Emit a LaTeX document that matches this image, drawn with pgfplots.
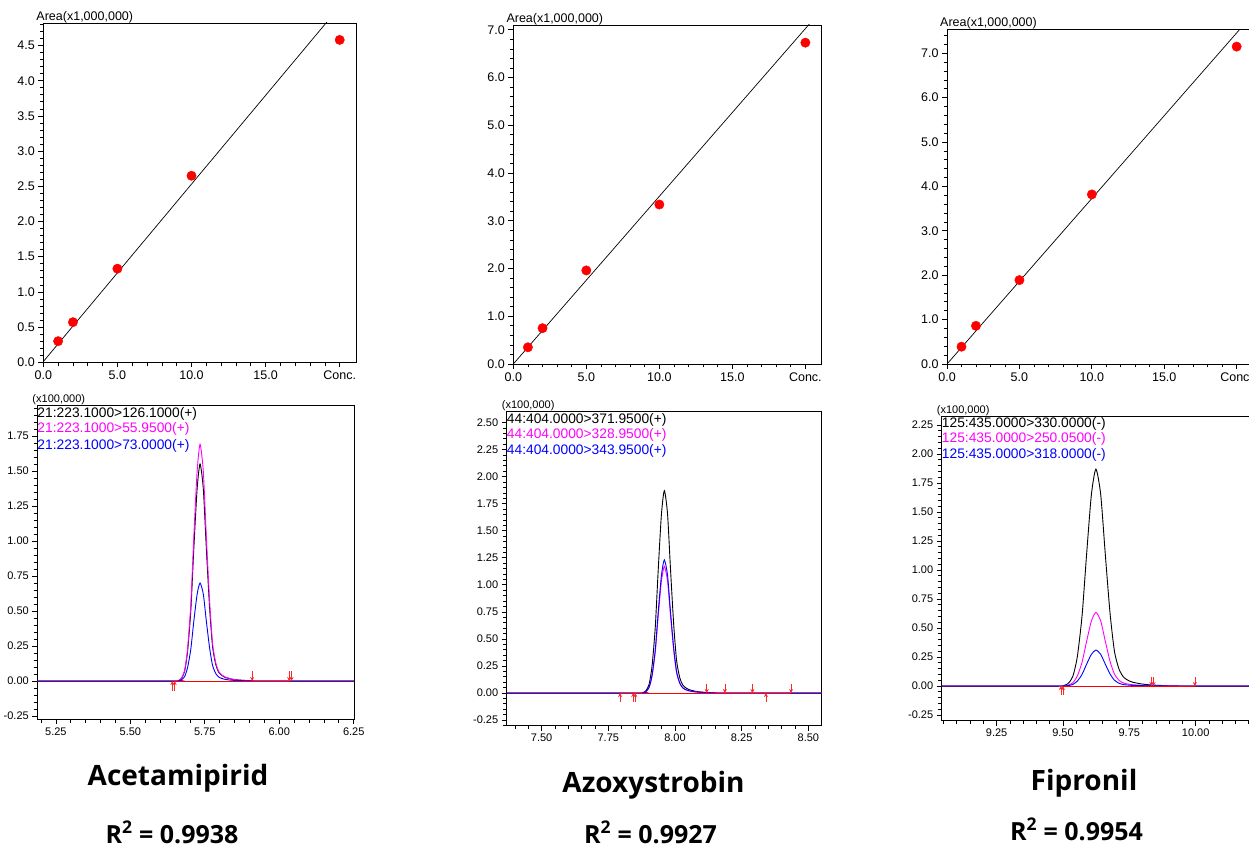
\documentclass[border=0pt]{standalone}
\usepackage{pgfplots}
\pgfplotsset{compat=1.18}
\usepackage{pgfplotstable}
\usetikzlibrary{arrows.meta}
\usepackage{fontspec}
\setmainfont{Liberation Sans}
\newfontfamily\titlefont{Open Sans}

\newcommand\calfont{\fontsize{12.5}{14}\selectfont}
\newcommand\chrfont{\fontsize{11}{13}\selectfont}
\newcommand\legfont{\fontsize{13.8}{15}\selectfont}
\newcommand\bigfont{\titlefont\bfseries\fontsize{28}{30}\selectfont}
\newcommand\rfont{\titlefont\bfseries\fontsize{25}{27}\selectfont}

\definecolor{basepurple}{RGB}{80,20,110}
\definecolor{mag}{RGB}{255,0,255}

% calibration points (conc, area x1e6)
\pgfplotstableread{
x y
1 0.30
2 0.57
5 1.33
10 2.65
20 4.58
}\calA
\pgfplotstableread{
x y
1 0.35
2 0.75
5 1.96
10 3.34
20 6.73
}\calB
\pgfplotstableread{
x y
1 0.39
2 0.86
5 1.89
10 3.82
20 7.15
}\calC

% chromatograms (time, black, magenta, blue) x1e5
\pgfplotstableread{
x k m b
5.1875 0 0 0
5.650 0 0 0
5.661 0.003 0.003 0.001
5.671 0.017 0.019 0.008
5.682 0.068 0.074 0.031
5.692 0.209 0.228 0.095
5.703 0.504 0.549 0.228
5.713 0.941 1.026 0.425
5.724 1.367 1.491 0.617
5.734 1.550 1.690 0.700
5.745 1.372 1.496 0.620
5.755 0.953 1.039 0.431
5.766 0.527 0.575 0.238
5.776 0.248 0.270 0.112
5.787 0.116 0.127 0.053
5.797 0.062 0.068 0.028
5.808 0.039 0.042 0.018
5.818 0.026 0.029 0.012
5.839 0.014 0.015 0.006
5.860 0.008 0.008 0.004
5.902 0.002 0.002 0.001
5.944 0 0 0
6.252 0 0 0
}\chrA
\pgfplotstableread{
x k m b
7.369 0 0 0
7.868 0 0 0
7.880 0.004 0.002 0.002
7.891 0.021 0.013 0.014
7.903 0.082 0.051 0.054
7.914 0.252 0.158 0.166
7.926 0.608 0.380 0.400
7.937 1.135 0.710 0.747
7.949 1.649 1.032 1.085
7.960 1.870 1.170 1.230
7.972 1.655 1.035 1.089
7.983 1.150 0.720 0.756
7.995 0.636 0.398 0.418
8.006 0.299 0.187 0.197
8.018 0.140 0.088 0.092
8.029 0.075 0.047 0.049
8.041 0.047 0.029 0.031
8.052 0.032 0.020 0.021
8.075 0.017 0.011 0.011
8.098 0.009 0.006 0.006
8.144 0.002 0.001 0.001
8.190 0 0 0
8.55 0 0 0
}\chrB
\pgfplotstableread{
x k m b
9.043 0 0 0
9.484 0 0 0
9.502 0.004 0.001 0.001
9.519 0.021 0.007 0.003
9.537 0.082 0.028 0.014
9.554 0.252 0.086 0.042
9.572 0.608 0.206 0.101
9.589 1.135 0.385 0.188
9.607 1.649 0.560 0.273
9.624 1.870 0.635 0.310
9.642 1.655 0.562 0.274
9.659 1.150 0.391 0.191
9.677 0.636 0.216 0.105
9.694 0.299 0.102 0.050
9.712 0.140 0.048 0.023
9.729 0.075 0.025 0.012
9.747 0.047 0.016 0.008
9.764 0.032 0.011 0.005
9.799 0.017 0.006 0.003
9.834 0.009 0.003 0.002
9.904 0.002 0.001 0
9.974 0 0 0
10.215 0 0 0
}\chrC

\tikzset{leg/.style={anchor=base west, inner sep=0pt, font=\legfont}}

\pgfplotsset{
  panel/.style={
    scale only axis, clip mode=individual,
    axis line style={black, line width=0.7pt},
    tick align=outside, xtick pos=bottom, ytick pos=left,
    major tick length=5pt, minor tick length=3.5pt,
    tick style={black, line width=0.7pt},
    minor x tick num=4, minor y tick num=4,
    /pgf/number format/assume math mode=true,
  },
  calib/.style={
    panel, xmin=0, ymin=0,
    xtick={0,5,10,15,20}, xticklabels={0.0,5.0,10.0,15.0,Conc.},
    tick label style={font=\calfont},
    yticklabel style={/pgf/number format/.cd, fixed, fixed zerofill, precision=1},
    title={Area(x1,000,000)},
    title style={at={(0,1)}, anchor=base west, xshift=-7pt, yshift=-3.5pt,
      inner sep=0pt, font=\calfont},
  },
  chrom/.style={
    panel, xtick distance=0.25, ytick distance=0.25,
    tick label style={font=\chrfont},
    xticklabel style={/pgf/number format/.cd, fixed, fixed zerofill, precision=2},
    yticklabel style={/pgf/number format/.cd, fixed, fixed zerofill, precision=2},
    title={(x100,000)},
    title style={at={(0,1)}, anchor=base west, xshift=-5pt, yshift=-3pt,
      inner sep=0pt, font=\chrfont},
  },
  dots/.style={only marks, mark=*, mark size=4.7pt, mark options={draw=red, fill=red}},
  fitline/.style={black, line width=0.7pt, no marks},
  trace/.style={line width=0.9pt, no marks, smooth, tension=0.4},
  flat/.style={line width=0.9pt, no marks, basepurple},
  intbase/.style={red, line width=0.9pt, no marks},
  uparr/.style={red!85!white, line width=0.7pt, no marks,
    -{Stealth[length=4pt, width=4pt]}, quiver={u=0, v=#1}},
  dnarr/.style={red!85!white, line width=0.7pt, no marks,
    -{Stealth[length=4pt, width=4pt]}, quiver={u=0, v=-#1}},
}

\begin{document}
\begin{tikzpicture}
\path[use as bounding box] (0,0) rectangle (1249pt,847pt);

% ---------- calibration curves ----------
\begin{axis}[calib, at={(43.3pt,824pt)}, anchor=north west,
  width=312.7pt, height=339.3pt, xmax=21.1, ymax=4.82, ytick distance=0.5]
\addplot[fitline] coordinates {(0,0.01) (21.1,5.33)};
\addplot[dots] table {\calA};
\end{axis}

\begin{axis}[calib, at={(513.3pt,822pt)}, anchor=north west,
  width=307.7pt, height=339pt, xmax=21.07, ymax=7.1, ytick distance=1]
\addplot[fitline] coordinates {(0,0) (21.07,7.40)};
\addplot[dots] table {\calB};
\end{axis}

\begin{axis}[calib, at={(947pt,817.7pt)}, anchor=north west,
  width=306pt, height=334.7pt, xmax=21.13, ymax=7.54, ytick distance=1]
\addplot[fitline] coordinates {(0,0) (21.13,7.88)};
\addplot[dots] table {\calC};
\end{axis}

% ---------- chromatograms ----------
\begin{axis}[chrom, at={(37.3pt,442pt)}, anchor=north west,
  width=317pt, height=314pt, xmin=5.1875, xmax=6.252, ymin=-0.271, ymax=1.971]
\addplot[trace, black] table[y=k] {\chrA};
\addplot[trace, mag] table[y=m] {\chrA};
\addplot[trace, blue] table[y=b] {\chrA};
\addplot[flat] coordinates {(5.1875,0) (5.650,0)};
\addplot[flat] coordinates {(5.944,0) (6.252,0)};
\addplot[intbase] coordinates {(5.645,0) (6.037,0)};
\addplot[uparr=0.07] coordinates {(5.641,-0.07) (5.649,-0.07)};
\addplot[dnarr=0.07] coordinates {(5.909,0.07) (6.033,0.07) (6.041,0.07)};
\node[leg, text=black, yshift=-13pt] at (rel axis cs:0,1) {21:223.1000>126.1000(+)};
\node[leg, text=mag, yshift=-28pt] at (rel axis cs:0,1) {21:223.1000>55.9500(+)};
\node[leg, text=blue, yshift=-44pt] at (rel axis cs:0,1) {21:223.1000>73.0000(+)};
\end{axis}

\begin{axis}[chrom, at={(506.7pt,435.3pt)}, anchor=north west,
  width=315pt, height=314pt, xmin=7.369, xmax=8.55, ymin=-0.302, ymax=2.60]
\addplot[trace, black] table[y=k] {\chrB};
\addplot[trace, mag] table[y=m] {\chrB};
\addplot[trace, blue] table[y=b] {\chrB};
\addplot[flat] coordinates {(7.369,0) (7.868,0)};
\addplot[flat] coordinates {(8.190,0) (8.55,0)};
\addplot[intbase] coordinates {(7.794,0) (8.435,0)};
\addplot[uparr=0.08] coordinates {(7.794,-0.08) (7.843,-0.08) (7.851,-0.08) (8.341,-0.08)};
\addplot[dnarr=0.08] coordinates {(8.119,0.08) (8.187,0.08) (8.290,0.08) (8.435,0.08)};
\node[leg, text=black, yshift=-11.6pt] at (rel axis cs:0,1) {44:404.0000>371.9500(+)};
\node[leg, text=mag, yshift=-26.6pt] at (rel axis cs:0,1) {44:404.0000>328.9500(+)};
\node[leg, text=blue, yshift=-42.6pt] at (rel axis cs:0,1) {44:404.0000>343.9500(+)};
\end{axis}

\begin{axis}[chrom, at={(941.7pt,431pt)}, anchor=north west,
  width=311pt, height=304.7pt, xmin=9.043, xmax=10.215, ymin=-0.299, ymax=2.328]
\addplot[trace, black] table[y=k] {\chrC};
\addplot[trace, mag] table[y=m] {\chrC};
\addplot[trace, blue] table[y=b] {\chrC};
\addplot[flat] coordinates {(9.043,0) (9.484,0)};
\addplot[flat] coordinates {(9.974,0) (10.215,0)};
\addplot[intbase] coordinates {(9.496,0) (9.997,0)};
\addplot[uparr=0.075] coordinates {(9.492,-0.075) (9.500,-0.075)};
\addplot[dnarr=0.075] coordinates {(9.833,0.075) (9.841,0.075) (9.997,0.075)};
\node[leg, text=black, yshift=-11.3pt] at (rel axis cs:0,1) {125:435.0000>330.0000(-)};
\node[leg, text=mag, yshift=-26.7pt] at (rel axis cs:0,1) {125:435.0000>250.0500(-)};
\node[leg, text=blue, yshift=-42.3pt] at (rel axis cs:0,1) {125:435.0000>318.0000(-)};
\end{axis}

% ---------- compound names and R^2 ----------
\node[font=\bigfont, anchor=base] at (178pt,62pt) {Acetamipirid};
\node[font=\bigfont, anchor=base] at (653.5pt,55pt) {Azoxystrobin};
\node[font=\bigfont, anchor=base] at (1084pt,57pt) {Fipronil};
\node[font=\rfont, anchor=base] at (172pt,4pt) {R\textsuperscript{2} = 0.9938};
\node[font=\rfont, anchor=base] at (650.5pt,4pt) {R\textsuperscript{2} = 0.9927};
\node[font=\rfont, anchor=base] at (1076.5pt,7pt) {R\textsuperscript{2} = 0.9954};
\end{tikzpicture}
\end{document}
